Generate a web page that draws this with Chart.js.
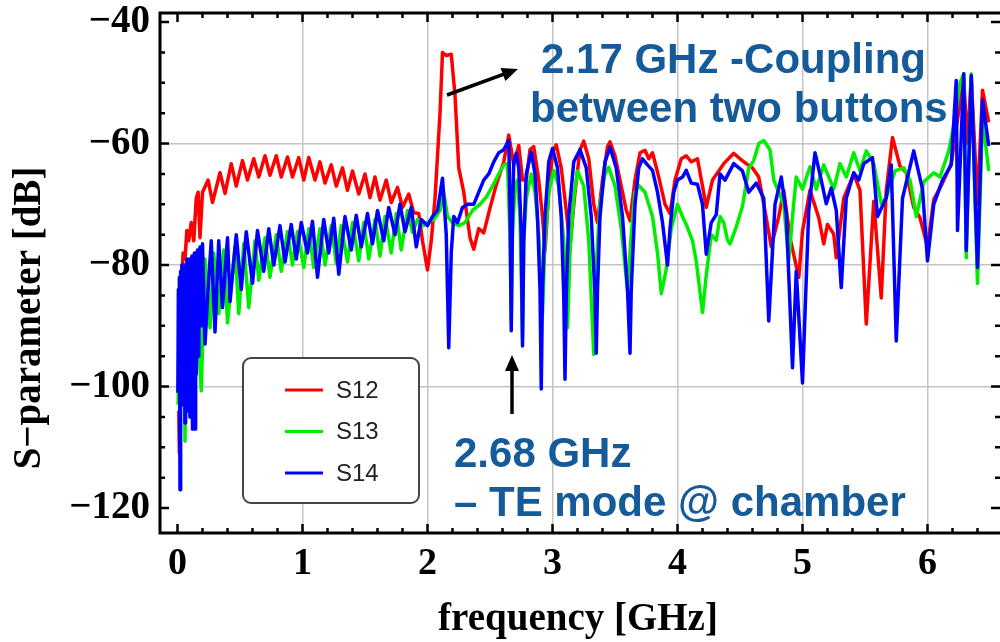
<!DOCTYPE html>
<html>
<head>
<meta charset="utf-8">
<script src="https://cdn.jsdelivr.net/npm/chart.js@4.4.1/dist/chart.umd.min.js"></script>
<style>
  html, body { margin: 0; padding: 0; background: #fff; }
  canvas { display: block; }
</style>
</head>
<body>
<canvas id="myChart" width="1000" height="642"></canvas>
<script>
// tick values and labels
const xTickVals = [0, 1, 2, 3, 4, 5, 6];
const yTickVals = [-120, -100, -80, -60, -40];
const yTickLabels = ['\u2212120', '\u2212100', '\u221280', '\u221260', '\u221240'];
const seriesNames = ['S12', 'S13', 'S14'];
const seriesColors = ['#ff0000', '#00ee00', '#0000ff'];

// S12, [frequency GHz, dB]
const s12Points = [
  [0.01, -104], [0.015, -111], [0.025, -96], [0.035, -82], [0.045, -78], [0.06, -79], [0.075, -74.3],
  [0.09, -76], [0.11, -73], [0.13, -76], [0.15, -69], [0.165, -68], [0.18, -75.5], [0.20, -68],
  [0.245, -66], [0.28, -69.7], [0.34, -64.8], [0.38, -68.2], [0.43, -63.3], [0.47, -67],
  [0.52, -62.8], [0.56, -66], [0.61, -62.5], [0.65, -65.5], [0.70, -62], [0.74, -65.2],
  [0.79, -62], [0.83, -65.5], [0.88, -62.2], [0.92, -65.5], [0.97, -62.3], [1.01, -66],
  [1.05, -62.3], [1.10, -66], [1.14, -63], [1.18, -66.5], [1.23, -63.5], [1.27, -67],
  [1.32, -64], [1.36, -67.7], [1.40, -64.5], [1.45, -68.3], [1.50, -65], [1.54, -68.9],
  [1.58, -65.5], [1.62, -69.3], [1.67, -66], [1.71, -69.7], [1.76, -67.2], [1.80, -70.5],
  [1.85, -68.3], [1.89, -71.4], [1.93, -71.5], [1.96, -76], [2.00, -80.8], [2.03, -76],
  [2.06, -69], [2.10, -55], [2.12, -45], [2.15, -45.5], [2.19, -45.3], [2.22, -52],
  [2.25, -64], [2.29, -68], [2.34, -75.5], [2.37, -77.4], [2.41, -74], [2.45, -74.7],
  [2.50, -70.6], [2.55, -66.8], [2.61, -63], [2.65, -58.6], [2.69, -63.5], [2.73, -60.3],
  [2.76, -66], [2.79, -66], [2.82, -61], [2.85, -60.5], [2.89, -66], [2.92, -72],
  [2.94, -77.6], [2.97, -68], [3.00, -61.5], [3.03, -60.2], [3.07, -64], [3.11, -71],
  [3.14, -76.8], [3.18, -68], [3.22, -61], [3.25, -59.6], [3.29, -62.5], [3.33, -70],
  [3.36, -73], [3.40, -66], [3.44, -60.5], [3.46, -59.7], [3.50, -62], [3.55, -67],
  [3.59, -71], [3.62, -72.7], [3.66, -66], [3.70, -61.5], [3.74, -61.1], [3.77, -62.5],
  [3.80, -61.5], [3.85, -65.5], [3.90, -70], [3.94, -71.5], [3.98, -66], [4.03, -62.5],
  [4.07, -62], [4.11, -63], [4.16, -62.5], [4.20, -67], [4.23, -70.5], [4.28, -66],
  [4.33, -64.5], [4.37, -63.3], [4.45, -61.6], [4.50, -62.5], [4.55, -63.3], [4.60, -64],
  [4.65, -65.5], [4.71, -72.2], [4.75, -77], [4.81, -72], [4.85, -67.7], [4.90, -75.5],
  [4.97, -82], [5.00, -74.4], [5.06, -67.7], [5.13, -72.2], [5.17, -76.5], [5.20, -73.3],
  [5.25, -74.9], [5.27, -78.8], [5.33, -69], [5.41, -65], [5.46, -67.7], [5.51, -89.7],
  [5.57, -69.5], [5.63, -85.4], [5.67, -67.7], [5.72, -59], [5.78, -63.7], [5.83, -64.8],
  [5.89, -70.5], [5.94, -72.2], [6.00, -77], [6.05, -69.2], [6.12, -66.5], [6.19, -63.3],
  [6.24, -56], [6.29, -49.6], [6.32, -60], [6.35, -49], [6.40, -70], [6.44, -51.2], [6.49, -56.5]
];

// S13
const s13Points = [
  [0.005, -103], [0.012, -90], [0.02, -97], [0.03, -82], [0.04, -102], [0.05, -85], [0.06, -109],
  [0.07, -82], [0.08, -100], [0.09, -80], [0.10, -105], [0.11, -81], [0.13, -104], [0.15, -80],
  [0.17, -93], [0.19, -100.7], [0.22, -79], [0.26, -90.3], [0.29, -78], [0.33, -88], [0.37, -77.5],
  [0.40, -89.5], [0.46, -77], [0.49, -88], [0.53, -76.5], [0.57, -87], [0.62, -76],
  [0.65, -82.5], [0.70, -75.5], [0.74, -82], [0.79, -75], [0.83, -81], [0.88, -74.5],
  [0.92, -80], [0.96, -74.5], [1.01, -80.4], [1.05, -74], [1.09, -80.4], [1.14, -74],
  [1.18, -80], [1.23, -73.5], [1.27, -79.7], [1.31, -73.5], [1.36, -79.5], [1.40, -73],
  [1.45, -79.3], [1.49, -73], [1.53, -79], [1.58, -72.5], [1.62, -78.5], [1.66, -72],
  [1.71, -78], [1.75, -71.5], [1.79, -77.5], [1.84, -71], [1.88, -74.6], [1.92, -72.5],
  [1.97, -73.5], [2.00, -73], [2.05, -72.5], [2.10, -71], [2.13, -68], [2.16, -72],
  [2.20, -73], [2.25, -73.5], [2.30, -73], [2.36, -71], [2.42, -70], [2.47, -68.8],
  [2.52, -67], [2.57, -65], [2.61, -63.5], [2.64, -63.3], [2.66, -75], [2.67, -89],
  [2.68, -75], [2.70, -67], [2.72, -66], [2.74, -72], [2.76, -92], [2.77, -76], [2.79, -69],
  [2.83, -65], [2.86, -68], [2.89, -75], [2.92, -88], [2.94, -76], [2.97, -68], [3.01, -64.4],
  [3.05, -67], [3.09, -76], [3.12, -90.3], [3.14, -78], [3.17, -69], [3.20, -64.5],
  [3.25, -67], [3.29, -76], [3.33, -94.7], [3.35, -80], [3.38, -70], [3.42, -65],
  [3.45, -63.9], [3.50, -67], [3.55, -74], [3.60, -84.2], [3.63, -75], [3.66, -68],
  [3.69, -66.9], [3.74, -68], [3.80, -72], [3.84, -78], [3.87, -84.7], [3.91, -80.7],
  [3.95, -74], [4.00, -70], [4.04, -72], [4.07, -73.3], [4.12, -76], [4.15, -79.4],
  [4.20, -87.8], [4.23, -81.7], [4.27, -75], [4.31, -75.9], [4.34, -72], [4.37, -73],
  [4.40, -75.9], [4.42, -76.5], [4.47, -73.7], [4.52, -70.3], [4.57, -64], [4.61, -62.8],
  [4.65, -60], [4.69, -59.5], [4.74, -61], [4.77, -66], [4.82, -68.5], [4.85, -70],
  [4.89, -79.3], [4.92, -72], [4.95, -65.5], [5.00, -67.5], [5.06, -63.8], [5.11, -67.5],
  [5.17, -63.5], [5.25, -67.5], [5.30, -63.3], [5.35, -65.5], [5.41, -61.5], [5.46, -64.5],
  [5.51, -61.2], [5.57, -63.3], [5.63, -69.9], [5.67, -68.9], [5.74, -64.5], [5.81, -64],
  [5.86, -66], [5.91, -72], [5.97, -66.3], [6.05, -64.8], [6.10, -65.5], [6.17, -61.2],
  [6.22, -56], [6.26, -50], [6.29, -48.5], [6.31, -78.8], [6.35, -48.5], [6.40, -83],
  [6.44, -55.8], [6.49, -64.5]
];

// S14
const s14Points = [
  [0.003, -101], [0.007, -84], [0.011, -96], [0.015, -82], [0.02, -117], [0.025, -81],
  [0.03, -98], [0.035, -80], [0.04, -103], [0.045, -81], [0.05, -95], [0.055, -80],
  [0.06, -106], [0.065, -80], [0.07, -99], [0.075, -79], [0.08, -104], [0.085, -80],
  [0.09, -96], [0.095, -79], [0.10, -105], [0.105, -79], [0.11, -100], [0.115, -78.5],
  [0.12, -107], [0.125, -79], [0.13, -102], [0.135, -78], [0.14, -107], [0.145, -78],
  [0.15, -98], [0.16, -77.5], [0.17, -95], [0.18, -77], [0.19, -90], [0.20, -76.5],
  [0.22, -93], [0.245, -84], [0.27, -76], [0.30, -91], [0.33, -76],
  [0.36, -87], [0.40, -75.5], [0.42, -86], [0.47, -75], [0.51, -84], [0.55, -74.5],
  [0.60, -83], [0.64, -74.3], [0.69, -81], [0.73, -74], [0.77, -80], [0.82, -73.5],
  [0.86, -79.5], [0.91, -73.3], [0.95, -79], [0.99, -73], [1.04, -78], [1.08, -72.8],
  [1.12, -82], [1.17, -72.5], [1.21, -78], [1.25, -72.3], [1.29, -81.5], [1.34, -72],
  [1.39, -77.5], [1.43, -71.8], [1.47, -77], [1.52, -71.5], [1.56, -76.5], [1.60, -71],
  [1.65, -76], [1.69, -70.5], [1.74, -75], [1.78, -70], [1.82, -74.5], [1.87, -70.5],
  [1.91, -77], [1.95, -72.5], [2.00, -73.5], [2.04, -72], [2.08, -71], [2.12, -65.7],
  [2.15, -75], [2.17, -93.6], [2.19, -78], [2.21, -72], [2.24, -73], [2.28, -70.5],
  [2.32, -70], [2.37, -70], [2.41, -68], [2.45, -66], [2.49, -65], [2.53, -63],
  [2.57, -61.5], [2.61, -61], [2.65, -59.5], [2.66, -70], [2.67, -90.8], [2.68, -72],
  [2.69, -63], [2.71, -61.6], [2.73, -64], [2.75, -75], [2.76, -93.3], [2.77, -76],
  [2.79, -65], [2.83, -61.4], [2.86, -65], [2.88, -72], [2.90, -84], [2.91, -100.4],
  [2.92, -84], [2.94, -72], [2.97, -63], [3.00, -60.8], [3.04, -64], [3.07, -72],
  [3.09, -85], [3.10, -98.8], [3.11, -85], [3.13, -72], [3.17, -63], [3.22, -61],
  [3.27, -64], [3.31, -72], [3.34, -85], [3.35, -94.5], [3.36, -84], [3.38, -72],
  [3.42, -63], [3.46, -60.6], [3.51, -64], [3.56, -72], [3.60, -84], [3.62, -94.5],
  [3.63, -84], [3.66, -70], [3.69, -64], [3.72, -62.5], [3.76, -63.5], [3.80, -64.4],
  [3.84, -68], [3.88, -73], [3.92, -80], [3.94, -74], [3.97, -68], [4.00, -66],
  [4.04, -65.5], [4.07, -64.4], [4.11, -66.5], [4.16, -66.7], [4.20, -70], [4.23, -78.2],
  [4.27, -73], [4.31, -71.7], [4.34, -65], [4.38, -66], [4.45, -63.3], [4.52, -64.5],
  [4.57, -68], [4.63, -66.5], [4.69, -69], [4.73, -89.2], [4.78, -70], [4.83, -65.5],
  [4.87, -71.5], [4.92, -96.9], [4.95, -81], [5.00, -99.4], [5.05, -71], [5.10, -61.5],
  [5.15, -66], [5.19, -69.9], [5.23, -67.3], [5.27, -71], [5.31, -83.7], [5.35, -69],
  [5.41, -64.8], [5.45, -66], [5.49, -63.3], [5.56, -62.3], [5.60, -72], [5.67, -68.9],
  [5.71, -63.5], [5.75, -92.5], [5.80, -69], [5.89, -61.2], [5.96, -67.5], [6.00, -79.3],
  [6.05, -70], [6.12, -66], [6.19, -63.5], [6.23, -49.6], [6.24, -74.3], [6.29, -48.5],
  [6.31, -77.6], [6.35, -48.8], [6.40, -80.4], [6.44, -52.8], [6.49, -60.4]
];

const toXY = pts => pts.map(p => ({x: p[0], y: p[1]}));

const serif = "'Liberation Serif', 'Times New Roman', serif";
const sans = "'Liberation Sans', Arial, sans-serif";
const noteBlue = '#155a99';

function arrow(ctx, x1, y1, x2, y2) {
  const ang = Math.atan2(y2 - y1, x2 - x1);
  const hl = 16, hw = 7;
  ctx.beginPath();
  ctx.moveTo(x1, y1);
  ctx.lineTo(x2 - Math.cos(ang) * hl * 0.8, y2 - Math.sin(ang) * hl * 0.8);
  ctx.stroke();
  ctx.beginPath();
  ctx.moveTo(x2, y2);
  ctx.lineTo(x2 - Math.cos(ang) * hl - Math.sin(ang) * hw, y2 - Math.sin(ang) * hl + Math.cos(ang) * hw);
  ctx.lineTo(x2 - Math.cos(ang) * hl + Math.sin(ang) * hw, y2 - Math.sin(ang) * hl - Math.cos(ang) * hw);
  ctx.closePath();
  ctx.fill();
}

const framePlugin = {
  id: 'frame',
  afterDatasetsDraw(chart) {
    const {ctx, chartArea: a, scales: {x, y}} = chart;
    ctx.save();
    ctx.strokeStyle = '#000';
    ctx.lineWidth = 3;
    ctx.beginPath();
    ctx.moveTo(a.right + 5, a.top);
    ctx.lineTo(a.left, a.top);
    ctx.lineTo(a.left, a.bottom);
    ctx.lineTo(a.right + 5, a.bottom);
    ctx.stroke();
    // inward ticks
    ctx.lineWidth = 2.5;
    ctx.beginPath();
    for (let i = 0; i <= 32; i++) {
      const px = x.getPixelForValue(i / 5);
      const len = i % 5 === 0 ? 9 : 5;
      ctx.moveTo(px, a.bottom); ctx.lineTo(px, a.bottom - len);
      ctx.moveTo(px, a.top); ctx.lineTo(px, a.top + len);
    }
    for (let v = -120; v <= -40; v += 5) {
      const py = y.getPixelForValue(v);
      const len = v % 20 === 0 ? 9 : 5;
      ctx.moveTo(a.left, py); ctx.lineTo(a.left + len, py);
      ctx.moveTo(a.right, py); ctx.lineTo(a.right - len, py);
    }
    ctx.stroke();

    // axis titles
    ctx.fillStyle = '#000';
    ctx.font = 'bold 39px ' + serif;
    ctx.textAlign = 'center';
    ctx.textBaseline = 'middle';
    ctx.fillText('frequency [GHz]', 578, 620);
    ctx.translate(30, 318);
    ctx.rotate(-Math.PI / 2);
    ctx.fillText('S\u2212parameter [dB]', 0, 0);
    ctx.restore();

    // legend
    ctx.save();
    ctx.fillStyle = '#fff';
    ctx.strokeStyle = '#444';
    ctx.lineWidth = 2;
    ctx.beginPath();
    ctx.roundRect(243, 358, 176, 145, 8);
    ctx.fill();
    ctx.stroke();
    ctx.font = '24px ' + sans;
    ctx.textBaseline = 'middle';
    ctx.textAlign = 'left';
    seriesNames.forEach((name, i) => {
      const ly = 390 + i * 41.5;
      ctx.strokeStyle = seriesColors[i];
      ctx.lineWidth = 3;
      ctx.beginPath();
      ctx.moveTo(285, ly); ctx.lineTo(323, ly);
      ctx.stroke();
      ctx.fillStyle = '#222';
      ctx.fillText(name, 336, ly + 1);
    });
    ctx.restore();

    // annotations
    ctx.save();
    ctx.fillStyle = noteBlue;
    ctx.font = 'bold 42px ' + sans;
    ctx.textAlign = 'left';
    ctx.textBaseline = 'alphabetic';
    ctx.fillText('2.17 GHz -Coupling', 541, 73);
    ctx.fillText('between two buttons', 530, 122);
    ctx.fillText('2.68 GHz', 454, 467);
    ctx.fillText('\u2013 TE mode @ chamber', 454, 516);
    ctx.strokeStyle = '#000';
    ctx.fillStyle = '#000';
    ctx.lineWidth = 3.5;
    arrow(ctx, 447, 95, 518, 69);
    arrow(ctx, 512, 414, 512, 355);
    ctx.restore();
  }
};

const ctx = document.getElementById('myChart').getContext('2d');

const mkSet = (i, pts, order) => ({
  label: seriesNames[i],
  data: toXY(pts),
  borderColor: seriesColors[i],
  backgroundColor: seriesColors[i],
  borderWidth: 3.5,
  pointRadius: 0,
  tension: 0,
  fill: false,
  borderJoinStyle: 'round',
  order: order
});

let chart = new Chart(ctx, {
  type: 'line',
  data: {
    datasets: [
      mkSet(0, s12Points, 2),
      mkSet(1, s13Points, 1),
      mkSet(2, s14Points, 0)
    ]
  },
  options: {
    responsive: false,
    animation: false,
    devicePixelRatio: 1,
    layout: { padding: { left: 0, right: 0, top: 13, bottom: 0 } },
    plugins: { legend: { display: false }, tooltip: { enabled: false } },
    scales: {
      x: {
        type: 'linear',
        min: -0.14,
        max: 6.58,
        afterBuildTicks: s => { s.ticks = xTickVals.map(v => ({value: v})); },
        afterFit: s => { s.height = 109; s.paddingLeft = 0; s.paddingRight = 0; },
        border: { display: false },
        grid: {
          drawTicks: false,
          lineWidth: 1.5,
          color: c => (c.tick && c.tick.value === 0) ? 'rgba(0,0,0,0)' : '#c4c4c4'
        },
        ticks: {
          padding: 8,
          color: '#000',
          font: { family: serif, size: 38, weight: 'bold' },
          callback: v => String(v)
        }
      },
      y: {
        min: -124.1,
        max: -38.5,
        afterBuildTicks: s => { s.ticks = yTickVals.map(v => ({value: v})); },
        afterFit: s => { s.width = 160; s.paddingTop = 0; s.paddingBottom = 0; },
        border: { display: false },
        grid: {
          drawTicks: false,
          lineWidth: 1.5,
          color: c => (c.tick && (c.tick.value === -40 || c.tick.value === -120)) ? 'rgba(0,0,0,0)' : '#c4c4c4'
        },
        ticks: {
          padding: 10,
          color: '#000',
          font: { family: serif, size: 39, weight: 'bold' },
          callback: v => yTickLabels[yTickVals.indexOf(v)]
        }
      }
    }
  },
  plugins: [{
    id: 'bg',
    beforeDraw(c) {
      c.ctx.save();
      c.ctx.fillStyle = '#fff';
      c.ctx.fillRect(0, 0, c.width, c.height);
      c.ctx.restore();
    }
  }, framePlugin]
});
</script>
</body>
</html>
